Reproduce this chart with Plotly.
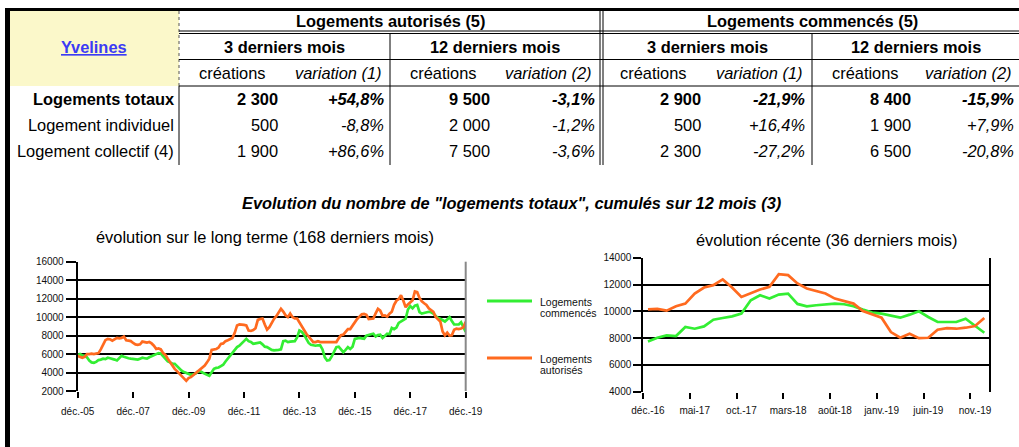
import plotly.graph_objects as go

W, H = 1019, 447
FONT = "Liberation Sans, Arial, sans-serif"

# ---------------- data ----------------
MONTHS_FR = ["janv.", "févr.", "mars", "avr.", "mai", "juin",
             "juil.", "août", "sept.", "oct.", "nov.", "déc."]

# Table
row_labels = ["Logements totaux", "Logement individuel", "Logement collectif (4)"]
aut_3m_creations = ["2 300", "500", "1 900"]
aut_3m_variation = ["+54,8%", "-8,8%", "+86,6%"]
aut_12m_creations = ["9 500", "2 000", "7 500"]
aut_12m_variation = ["-3,1%", "-1,2%", "-3,6%"]
com_3m_creations = ["2 900", "500", "2 300"]
com_3m_variation = ["-21,9%", "+16,4%", "-27,2%"]
com_12m_creations = ["8 400", "1 900", "6 500"]
com_12m_variation = ["-15,9%", "+7,9%", "-20,8%"]

# Long term series (déc.-05 -> déc.-19, 169 months), cumulated over 12 months
autorises_long = [
    5800, 5700, 5600, 5700, 6000, 6000, 6050, 6000, 6050, 6100,
    6500, 7000, 7500, 7650, 7600, 7450, 7600, 7750, 7700, 7750,
    7900, 7500, 7450, 7400, 7200, 7050, 7000, 7050, 7350, 7300,
    7250, 7300, 7150, 6900, 6550, 6600, 6500, 6100, 5900, 5500,
    5100, 4750, 4400, 4150, 3900, 3700, 3350, 3100, 3400, 3500,
    3700, 3900, 4150, 4300, 4550, 4750, 5100, 5500, 6450, 6500,
    6550, 6700, 7100, 7150, 7400, 7500, 7600, 7750, 8300, 9100,
    9200, 9200, 9150, 9100, 8550, 8500, 8600, 8800, 9700, 9800,
    9850, 9200, 8650, 8900, 9400, 9800, 10100, 10500, 10900, 10600,
    10200, 10000, 10400, 10000, 9850, 9850, 9400, 9000, 8600, 8200,
    7900, 7600, 7300, 7300, 7400, 7300, 7300, 7250, 7300, 7300,
    7300, 7300, 7300, 7700, 8050, 8100, 8350, 8700, 8700, 9100,
    9400, 9800, 10050, 10300, 10350, 10250, 9800, 9800, 9850, 10400,
    10900, 10700,
    10150, 10175, 10050, 10375, 10575, 11325, 11775, 11950, 12375, 11775,
    11075, 11375, 11625, 11825, 12775, 12700, 12075, 11700, 11500, 11325,
    10950, 10775, 10575, 10025, 9775, 9525, 8450, 8025, 8325, 8000,
    8025, 8625, 8750, 8700, 8775, 8900, 9500,
]
commences_long = [
    5900, 6000, 5850, 5800, 5650, 5300, 5100, 5050, 5150, 5350,
    5400, 5500, 5450, 5600, 5550, 5500, 5400, 5300, 5500, 5800,
    5700, 5600, 5550, 5500, 5450, 5400, 5400, 5500, 5600, 5550,
    5500, 5650, 5750, 5850, 6000, 6100, 6050, 5800, 5500, 5200,
    5100, 4950, 4950, 4700, 4400, 4200, 4050, 3950, 3900, 3750,
    3800, 3900, 4100, 4150, 4000, 3850, 3750, 3650, 4100, 4400,
    4500, 4550, 4700, 4850, 5200, 5500, 5850, 6200, 6400, 6750,
    6900, 7100, 7400, 7650, 7400, 7300, 7100, 7150, 7200, 7250,
    7050, 6800, 6750, 6600, 6450, 6400, 6400, 6450, 6500, 7400,
    7450, 7300, 7350, 7400, 7400, 7800, 8550, 8400, 8100, 7650,
    7200, 7000, 6950, 6900, 6950, 6950, 6500, 5650, 5300, 5350,
    5750, 6200, 6750, 6800, 6500, 6200, 6450, 6750, 6550, 6800,
    7650, 7700, 7750, 7700, 7650, 8000, 8100, 8150, 8200, 7900,
    8050, 8100,
    7750, 8025, 8200, 8150, 8825, 8700, 8875, 9375, 9500, 9625,
    9825, 10825, 11200, 10950, 11250, 11325, 10550, 10375, 10450, 10525,
    10575, 10525, 10375, 10125, 9900, 9825, 9700, 9525, 9750, 10000,
    9575, 9200, 9200, 9200, 9450, 8950, 8400,
]
months_long = [f"{MONTHS_FR[(11 + i) % 12]}-{(5 + (11 + i) // 12):02d}"
               for i in range(len(autorises_long))]

# Recent: last 37 months (déc.-16 -> déc.-19)
N_RECENT = 37
autorises_recent = autorises_long[-N_RECENT:]
commences_recent = commences_long[-N_RECENT:]
months_recent = months_long[-N_RECENT:]

long_tick_labels = ["déc.-05", "déc.-07", "déc.-09", "déc.-11", "déc.-13",
                    "déc.-15", "déc.-17", "déc.-19"]
recent_tick_labels = ["déc.-16", "mai-17", "oct.-17", "mars-18", "août-18",
                      "janv.-19", "juin-19", "nov.-19"]

GREEN = "#33EE33"
ORANGE = "#FF6A1F"
TS = 16.4  # table / title font size

# ---------------- helpers ----------------
def X(px):
    return px / W

def Y(py):
    return 1 - py / H

shapes = []
annotations = []

def hline(x0, x1, y, width=1, color="#000", dash=None):
    shapes.append(dict(type="line", xref="paper", yref="paper",
                       x0=X(x0), x1=X(x1), y0=Y(y), y1=Y(y),
                       line=dict(color=color, width=width, dash=dash)))

def vline(x, y0, y1, width=1, color="#000", dash=None):
    shapes.append(dict(type="line", xref="paper", yref="paper",
                       x0=X(x), x1=X(x), y0=Y(y0), y1=Y(y1),
                       line=dict(color=color, width=width, dash=dash)))

def text(x, y, s, size=TS, anchor="center", bold=False, italic=False, color="#000"):
    if bold:
        s = f"<b>{s}</b>"
    if italic:
        s = f"<i>{s}</i>"
    annotations.append(dict(xref="paper", yref="paper", x=X(x), y=Y(y), text=s,
                            showarrow=False, xanchor=anchor, yanchor="middle",
                            align=anchor if anchor != "center" else "center",
                            font=dict(family=FONT, size=size, color=color)))

# ---------------- table frame ----------------
shapes.append(dict(type="rect", xref="paper", yref="paper", x0=X(10), x1=X(179),
                   y0=Y(86), y1=Y(11), fillcolor="#FBF8CA", line=dict(width=0),
                   layer="below"))
hline(5, W, 9.5, width=3)
vline(7.5, 8, H, width=5)
vline(179, 11, 86, width=1, color="#555", dash="dot")
vline(179, 86, 165, width=1)
hline(179, W, 31, width=1)
hline(179, W, 33.5, width=1)
hline(179, W, 59.5, width=1)
hline(179, W, 86, width=1)
vline(390, 33.5, 165, width=1)
vline(812, 33.5, 165, width=1)
vline(600, 11, 165, width=1)
vline(603, 11, 165, width=1)

# table header text
text(94, 47, "<u>Yvelines</u>", bold=True, color="#3B3BF5")
text(390, 21, "Logements autorisés (5)", bold=True)
text(812, 21, "Logements commencés (5)", bold=True)
group_titles = ["3 derniers mois", "12 derniers mois", "3 derniers mois", "12 derniers mois"]
for cx, t in zip((284.5, 495, 707.5, 915.5), group_titles):
    text(cx, 47, t, bold=True)
sub_titles = ["créations", "variation (1)", "créations", "variation (2)",
              "créations", "variation (1)", "créations", "variation (2)"]
sub_x = [232, 338, 443, 548, 653, 759, 865, 968]
for cx, t in zip(sub_x, sub_titles):
    text(cx, 73, t, italic=t.startswith("variation"))

row_y = [99, 125, 151]
cols = [
    (280, aut_3m_creations, False), (386, aut_3m_variation, True),
    (491.7, aut_12m_creations, False), (596.7, aut_12m_variation, True),
    (703, com_3m_creations, False), (807, com_3m_variation, True),
    (913, com_12m_creations, False), (1016, com_12m_variation, True),
]
for i, (lab, ry) in enumerate(zip(row_labels, row_y)):
    text(176, ry, lab, anchor="right", bold=(i == 0))
    for rx, vals, ital in cols:
        text(rx, ry, vals[i], anchor="right", bold=(i == 0), italic=ital)

# chart titles
text(512, 203, "Evolution du nombre de \"logements totaux\", cumulés sur 12 mois (3)",
     bold=True, italic=True)
text(265, 237, "évolution sur le long terme (168 derniers mois)")
text(826, 240, "évolution récente (36 derniers mois)")

# manual legend
LS = 10.5
hline(487, 532, 301, width=3, color=GREEN)
hline(487, 532, 358, width=3, color=ORANGE)
text(538, 302, "Logements", size=LS, anchor="left", color="#111")
text(538, 313, "commencés", size=LS, anchor="left", color="#111")
text(538, 359, "Logements", size=LS, anchor="left", color="#111")
text(538, 370, "autorisés", size=LS, anchor="left", color="#111")

# left chart right border (gray)
shapes.append(dict(type="line", xref="x domain", yref="y domain", x0=1, x1=1, y0=0, y1=1,
                   line=dict(color="#888", width=2)))

# ---------------- charts ----------------
fig = go.Figure()
idx_long = list(range(len(months_long)))
idx_recent = list(range(len(months_recent)))

for xa, ya, xs, g, o, m in [("x", "y", idx_long, commences_long, autorises_long, months_long),
                            ("x2", "y2", idx_recent, commences_recent, autorises_recent, months_recent)]:
    fig.add_trace(go.Scatter(x=xs, y=g, mode="lines", name="Logements commencés",
                             line=dict(color=GREEN, width=2.7), xaxis=xa, yaxis=ya,
                             text=m, hovertemplate="%{text}: %{y}<extra></extra>",
                             showlegend=False))
    fig.add_trace(go.Scatter(x=xs, y=o, mode="lines", name="Logements autorisés",
                             line=dict(color=ORANGE, width=2.7), xaxis=xa, yaxis=ya,
                             text=m, hovertemplate="%{text}: %{y}<extra></extra>",
                             showlegend=False))

tickfont = dict(family=FONT, size=10, color="#111")
long_tickvals = [months_long.index(t) for t in long_tick_labels]
recent_tickvals = [months_recent.index(t) for t in recent_tick_labels]

fig.update_layout(
    width=W, height=H, margin=dict(l=0, r=0, t=0, b=0, pad=0), autosize=False,
    paper_bgcolor="white", plot_bgcolor="white",
    shapes=shapes, annotations=annotations, showlegend=False,
    xaxis=dict(domain=[X(77.7), X(465.7)], range=[0, len(months_long) - 1], anchor="y",
               automargin=False,
               tickmode="array", tickvals=long_tickvals, ticktext=long_tick_labels,
               ticks="outside", ticklen=6, tickwidth=2, tickcolor="#000",
               showgrid=False, zeroline=False, showline=False, tickfont=tickfont,
               ticklabelstandoff=5),
    yaxis=dict(domain=[Y(391), Y(261.7)], range=[2000, 16000], dtick=2000, anchor="x",
               automargin=False, tickformat="d",
               showgrid=True, gridcolor="#000", gridwidth=2, zeroline=False,
               showline=True, linecolor="#000", linewidth=2,
               ticks="outside", ticklen=10, tickwidth=2, tickcolor="#000",
               tickfont=tickfont),
    xaxis2=dict(domain=[X(643.3), X(989)], range=[-0.5, len(months_recent) - 0.5], anchor="y2",
                automargin=False,
                tickmode="array", tickvals=recent_tickvals, ticktext=recent_tick_labels,
                ticks="", showgrid=False, zeroline=False, showline=False, tickfont=tickfont,
                ticklabelstandoff=11,
                minor=dict(tickmode="array", tickvals=[v - 0.5 for v in recent_tickvals],
                           ticks="outside", ticklen=6, tickwidth=2, tickcolor="#000",
                           showgrid=False)),
    yaxis2=dict(domain=[Y(391.7), Y(257.7)], range=[4000, 14000], dtick=2000, anchor="x2",
                automargin=False, tickformat="d",
                showgrid=True, gridcolor="#000", gridwidth=2, zeroline=False,
                showline=True, linecolor="#000", linewidth=2, mirror=True,
                ticks="outside", ticklen=8, tickwidth=2, tickcolor="#000",
                tickfont=tickfont),
)

fig.write_html(
    "out.html",
    config={"displayModeBar": False},
    post_script="document.body.style.margin='0';document.body.style.overflow='hidden';",
)
